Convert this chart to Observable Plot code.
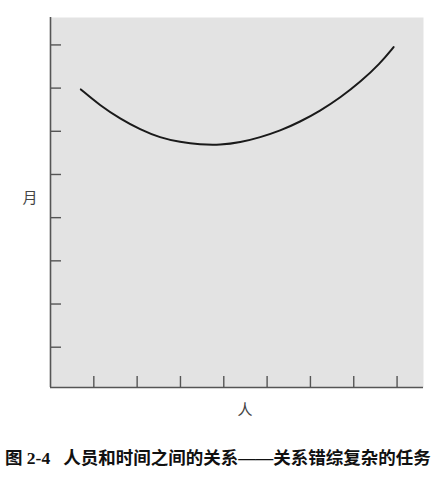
<!DOCTYPE html>
<html>
<head>
<meta charset="utf-8">
<script src="https://cdn.jsdelivr.net/npm/d3@7"></script>
<script src="https://cdn.jsdelivr.net/npm/@observablehq/plot@0.6"></script>
<style>
  html, body { margin: 0; padding: 0; background: #fff; }
  #chart svg { display: block; }
  #caption {
    margin: 0; padding: 13px 0 0 5px;
    font-family: "Liberation Serif", "Noto Sans CJK SC", serif;
    font-weight: bold; font-size: 17.5px; line-height: 21px; color: #111;
    white-space: pre;
  }
</style>
</head>
<body>
<div id="chart"></div>
<div id="caption"></div>
<script>
// Curve: people (x) vs months (y)
const people = [0.70, 1.14, 1.61, 2.07, 2.53, 2.99, 3.45, 3.92, 4.38, 4.84, 5.30, 5.76, 6.22, 6.69, 7.15, 7.61, 7.92];
const months = [6.97, 6.60, 6.29, 6.04, 5.85, 5.75, 5.69, 5.68, 5.74, 5.86, 6.01, 6.22, 6.47, 6.78, 7.14, 7.57, 7.95];
const xTicks = [1, 2, 3, 4, 5, 6, 7, 8];
const yTicks = [1, 2, 3, 4, 5, 6, 7, 8];
const xLabel = "人";
const yLabel = "月";
const captionText = "图 2-4   人员和时间之间的关系——关系错综复杂的任务";

const data = people.map((p, i) => ({people: p, months: months[i]}));
const xDomain = [0, 8.61];
const yDomain = [0.067, 8.635];

const chart = Plot.plot({
  width: 440,
  height: 435,
  marginLeft: 50,
  marginRight: 17,
  marginTop: 17,
  marginBottom: 48,
  x: {domain: xDomain},
  y: {domain: yDomain},
  style: {fontFamily: "'Noto Sans CJK SC', sans-serif", background: "#fff"},
  marks: [
    Plot.frame({fill: "#e3e3e3", stroke: null}),
    Plot.axisY({ticks: yTicks, tickSize: -11, tickFormat: () => "", label: null, stroke: "#555", strokeWidth: 1.4}),
    Plot.axisX({ticks: xTicks, tickSize: -11, tickFormat: () => "", label: null, stroke: "#555", strokeWidth: 1.4}),
    Plot.ruleX([xDomain[0]], {stroke: "#555", strokeWidth: 1.6}),
    Plot.ruleY([yDomain[0]], {stroke: "#555", strokeWidth: 1.6}),
    Plot.line(data, {x: "people", y: "months", curve: "basis", stroke: "#1a1a1a", strokeWidth: 2}),
    Plot.text([yLabel], {frameAnchor: "left", dx: -28, dy: -4, fontSize: 15, fill: "#444"}),
    Plot.text([xLabel], {frameAnchor: "bottom", dx: 8, dy: 27, fontSize: 15, fill: "#444"})
  ]
});
document.getElementById("chart").append(chart);
document.getElementById("caption").textContent = captionText;
</script>
</body>
</html>
